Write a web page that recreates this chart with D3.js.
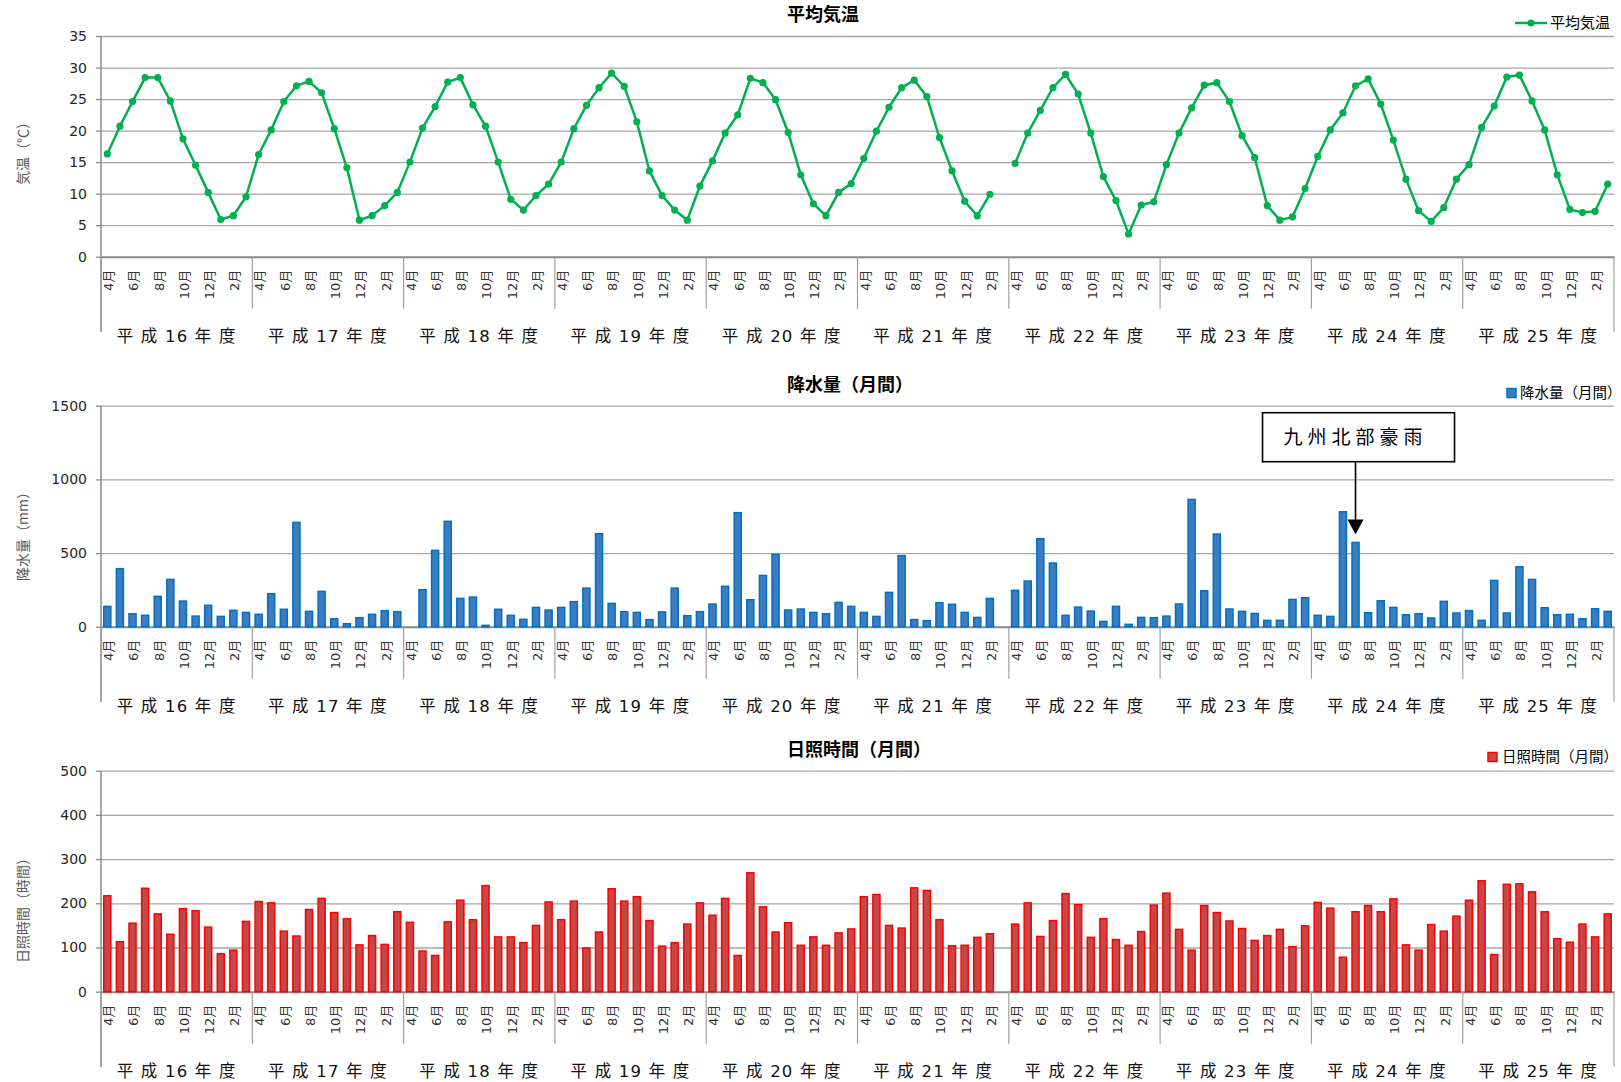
<!DOCTYPE html>
<html>
<head>
<meta charset="utf-8">
<script src="https://cdn.jsdelivr.net/npm/d3@7"></script>
<style>
    body { margin: 0; background: #fff; }
    text { font-family: "DejaVu Sans", "Noto Sans CJK JP", sans-serif; }
</style>
</head>
<body>
<svg id="chart"></svg>
<script>
var yearNames = ["平 成 16 年 度", "平 成 17 年 度", "平 成 18 年 度", "平 成 19 年 度", "平 成 20 年 度",
    "平 成 21 年 度", "平 成 22 年 度", "平 成 23 年 度", "平 成 24 年 度", "平 成 25 年 度"];
var monthNames = ["4月", "5月", "6月", "7月", "8月", "9月", "10月", "11月", "12月", "1月", "2月", "3月"];

// 平均気温 (℃), 4月〜3月 x 10年度
var temperature = [
    16.3, 20.7, 24.6, 28.4, 28.4, 24.7, 18.7, 14.5, 10.2, 5.9, 6.5, 9.5,
    16.2, 20.1, 24.6, 27.1, 27.8, 26.0, 20.3, 14.1, 5.8, 6.5, 8.1, 10.2,
    15.0, 20.4, 23.8, 27.7, 28.4, 24.1, 20.7, 15.0, 9.1, 7.4, 9.7, 11.5,
    15.0, 20.3, 24.0, 26.8, 29.1, 27.0, 21.4, 13.6, 9.7, 7.4, 5.8, 11.2,
    15.2, 19.6, 22.5, 28.3, 27.6, 24.9, 19.7, 13.0, 8.4, 6.5, 10.2, 11.6,
    15.6, 19.9, 23.7, 26.8, 28.0, 25.4, 18.9, 13.6, 8.8, 6.5, 9.9, null,
    14.8, 19.6, 23.2, 26.8, 28.9, 25.8, 19.6, 12.7, 8.9, 3.6, 8.2, 8.7,
    14.6, 19.6, 23.6, 27.2, 27.6, 24.6, 19.2, 15.7, 8.1, 5.8, 6.3, 10.8,
    15.9, 20.1, 22.8, 27.1, 28.2, 24.2, 18.5, 12.3, 7.3, 5.6, 7.8, 12.3,
    14.6, 20.5, 23.9, 28.5, 28.8, 24.7, 20.1, 13.0, 7.5, 7.0, 7.2, 11.5
];

// 降水量 (mm)
var rainfall = [
    138, 394, 88, 77, 206, 321, 174, 72, 145, 70, 111, 97,
    84, 224, 118, 708, 104, 240, 54, 20, 61, 84, 109, 102,
    null, 251, 518, 715, 192, 201, 9, 118, 77, 50, 131, 113,
    131, 170, 262, 631, 158, 102, 97, 48, 100, 262, 75, 102,
    154, 274, 774, 183, 348, 491, 113, 120, 97, 88, 165, 138,
    97, 70, 233, 482, 48, 41, 163, 152, 97, 63, 192, null,
    247, 310, 597, 432, 77, 133, 106, 36, 138, 16, 63, 61,
    72, 154, 864, 244, 629, 120, 104, 90, 43, 43, 185, 197,
    77, 70, 780, 572, 95, 176, 131, 81, 88, 59, 172, 93,
    109, 43, 314, 93, 407, 321, 129, 81, 84, 54, 122, 104
];

// 日照時間 (時間)
var sunshine = [
    217, 113, 155, 234, 176, 130, 188, 183, 146, 86, 94, 159,
    204, 201, 137, 126, 186, 211, 179, 165, 106, 127, 107, 181,
    157, 92, 82, 158, 207, 163, 240, 124, 124, 111, 150, 203,
    163, 205, 99, 135, 233, 205, 215, 161, 103, 111, 153, 201,
    173, 211, 82, 269, 192, 135, 156, 105, 124, 105, 133, 142,
    215, 220, 150, 144, 235, 229, 163, 104, 105, 123, 131, null,
    153, 201, 125, 161, 222, 197, 123, 165, 118, 105, 136, 196,
    223, 141, 94, 195, 179, 160, 143, 116, 127, 141, 102, 149,
    202, 189, 78, 181, 195, 181, 210, 106, 94, 152, 137, 171,
    207, 251, 84, 243, 244, 226, 181, 120, 112, 153, 124, 176
];

var tempTicks = [0, 5, 10, 15, 20, 25, 30, 35];
var rainTicks = [0, 500, 1000, 1500];
var sunTicks = [0, 100, 200, 300, 400, 500];

var stormIndex = 99;   // 平成24年7月
var stormLabel = "九州北部豪雨";

var totalWidth = 1621;
var totalHeight = 1082;
var left = 101, right = 1614;

var svg = d3.select("#chart")
    .attr("width", totalWidth)
    .attr("height", totalHeight);

var months = d3.range(yearNames.length * 12);
var x = d3.scaleBand().domain(months).range([left, right]).paddingInner(0.44).paddingOuter(0.22);
var xYear = d3.scaleBand().domain(yearNames).range([left, right]);

function monthName(i) { return monthNames[i % 12]; }

function drawFrame(y, ticks, title, yTitle, yTitleY) {
    var y0 = y(0);
    var g = svg.append("g");

    // horizontal grid
    g.append("g")
        .attr("transform", "translate(" + left + ",0)")
        .call(d3.axisLeft(y).tickValues(ticks.slice(1)).tickSize(-(right - left)).tickFormat(""))
        .call(function (s) {
            s.select(".domain").remove();
            s.selectAll("line").attr("stroke", "#a6a6a6").attr("stroke-width", 1.3);
        });

    // y axis with labels
    g.append("g")
        .attr("transform", "translate(" + left + ",0)")
        .call(d3.axisLeft(y).tickValues(ticks).tickSize(5).tickPadding(9).tickFormat(d3.format("d")))
        .call(function (s) {
            s.select(".domain").remove();
            s.selectAll("line").attr("stroke", "#898989").attr("stroke-width", 1.3);
            s.selectAll("text").attr("font-size", 14).attr("fill", "#262626")
                .style("font-family", "DejaVu Sans");
        });

    g.append("line")
        .attr("x1", left).attr("x2", left)
        .attr("y1", y(ticks[ticks.length - 1])).attr("y2", y0 + 75)
        .attr("stroke", "#898989").attr("stroke-width", 1.5);

    // month labels
    g.append("g")
        .attr("transform", "translate(0," + y0 + ")")
        .call(d3.axisBottom(x).tickValues(months.filter(function (d) { return d % 2 == 0; }))
            .tickSize(0).tickFormat(monthName))
        .call(function (s) {
            s.select(".domain").attr("stroke", "#898989").attr("stroke-width", 2);
            s.selectAll("text")
                .attr("transform", "rotate(-90)")
                .attr("text-anchor", "end")
                .attr("x", -13).attr("y", 0).attr("dy", "0.45em")
                .attr("font-size", 13).attr("fill", "#333");
        });

    // year separators
    var bounds = d3.range(yearNames.length + 1);
    g.selectAll(".sep")
        .data(bounds)
        .enter()
        .append("line")
        .attr("x1", function (d) { return left + d * xYear.bandwidth(); })
        .attr("x2", function (d) { return left + d * xYear.bandwidth(); })
        .attr("y1", y0)
        .attr("y2", function (d) { return (d == 0 || d == yearNames.length) ? y0 + 75 : y0 + 52; })
        .attr("stroke", "#a0a0a0").attr("stroke-width", 1.2);

    g.selectAll(".year")
        .data(yearNames)
        .enter()
        .append("text")
        .attr("x", function (d) { return xYear(d) + xYear.bandwidth() / 2; })
        .attr("y", y0 + 80)
        .attr("dy", "0.35em")
        .attr("text-anchor", "middle")
        .attr("font-size", 16.5)
        .attr("letter-spacing", 1.2)
        .attr("fill", "#111")
        .text(function (d) { return d; });

    g.append("text")
        .attr("x", 787).attr("y", y(ticks[ticks.length - 1]) - 21)
        .attr("dy", "0.35em")
        .attr("font-size", 18).attr("font-weight", "bold")
        .style("font-family", "Noto Sans CJK JP")
        .text(title);

    g.append("text")
        .attr("transform", "translate(23," + yTitleY + ") rotate(-90)")
        .attr("text-anchor", "middle")
        .attr("dy", "0.35em")
        .attr("font-size", 14).attr("fill", "#595959")
        .style("font-family", "Noto Sans CJK JP")
        .text(yTitle);
}

// ---- 平均気温 ----
var yTemp = d3.scaleLinear().domain([0, 35]).range([256.7, 36]);
drawFrame(yTemp, tempTicks, "平均気温", "気温（℃）", 150);

var line = d3.line()
    .defined(function (d) { return d != null; })
    .x(function (d, i) { return x(i) + x.bandwidth() / 2; })
    .y(function (d) { return yTemp(d); });

svg.append("path")
    .datum(temperature)
    .attr("d", line)
    .attr("fill", "none")
    .attr("stroke", "#00b050")
    .attr("stroke-width", 2.5);

svg.selectAll(".dot")
    .data(months.filter(function (i) { return temperature[i] != null; }))
    .enter()
    .append("circle")
    .attr("cx", function (i) { return x(i) + x.bandwidth() / 2; })
    .attr("cy", function (i) { return yTemp(temperature[i]); })
    .attr("r", 3.6)
    .attr("fill", "#00b050");

svg.append("line").attr("x1", 1515).attr("x2", 1547).attr("y1", 23).attr("y2", 23)
    .attr("stroke", "#00b050").attr("stroke-width", 2.5);
svg.append("circle").attr("cx", 1531).attr("cy", 23).attr("r", 3.6).attr("fill", "#00b050");
svg.append("text").attr("x", 1550).attr("y", 23).attr("dy", "0.35em")
    .attr("font-size", 15).style("font-family", "Noto Sans CJK JP").text("平均気温");

// ---- 降水量 ----
var yRain = d3.scaleLinear().domain([0, 1500]).range([626.7, 405.7]);
drawFrame(yRain, rainTicks, "降水量（月間）", "降水量（mm）", 533);

svg.selectAll(".rain")
    .data(months.filter(function (i) { return rainfall[i] != null; }))
    .enter()
    .append("rect")
    .attr("x", function (i) { return x(i); })
    .attr("y", function (i) { return yRain(rainfall[i]); })
    .attr("width", x.bandwidth())
    .attr("height", function (i) { return yRain(0) - yRain(rainfall[i]); })
    .attr("fill", "#3d7dbf")
    .attr("stroke", "#0070c0")
    .attr("stroke-width", 1.5);

svg.append("rect").attr("x", 1507).attr("y", 388.5).attr("width", 9).attr("height", 9)
    .attr("fill", "#3d7dbf").attr("stroke", "#0070c0").attr("stroke-width", 1.5);
svg.append("text").attr("x", 1520).attr("y", 393).attr("dy", "0.35em")
    .attr("font-size", 14.5).style("font-family", "Noto Sans CJK JP").text("降水量（月間）");

// annotation
var ax = x(stormIndex) + x.bandwidth() / 2;
var tipY = yRain(rainfall[stormIndex]) - 8;
var boxW = 192, boxH = 49, boxTop = 412.7;
svg.append("rect")
    .attr("x", ax - 93).attr("y", boxTop)
    .attr("width", boxW).attr("height", boxH)
    .attr("fill", "#fff").attr("stroke", "#000").attr("stroke-width", 1.6);
svg.append("text")
    .attr("x", ax - 93 + boxW / 2 - 3).attr("y", boxTop + boxH / 2)
    .attr("dy", "0.36em")
    .attr("text-anchor", "middle")
    .attr("font-size", 19)
    .attr("letter-spacing", 5)
    .style("font-family", "Noto Sans CJK JP")
    .text(stormLabel);
svg.append("line")
    .attr("x1", ax).attr("x2", ax)
    .attr("y1", boxTop + boxH).attr("y2", tipY - 14)
    .attr("stroke", "#000").attr("stroke-width", 1.6);
svg.append("path")
    .attr("d", "M" + (ax - 8) + "," + (tipY - 15) + "L" + (ax + 8) + "," + (tipY - 15) + "L" + ax + "," + tipY + "Z")
    .attr("fill", "#000");

// ---- 日照時間 ----
var ySun = d3.scaleLinear().domain([0, 500]).range([991.7, 770.7]);
drawFrame(ySun, sunTicks, "日照時間（月間）", "日照時間（時間）", 907);

svg.selectAll(".sun")
    .data(months.filter(function (i) { return sunshine[i] != null; }))
    .enter()
    .append("rect")
    .attr("x", function (i) { return x(i); })
    .attr("y", function (i) { return ySun(sunshine[i]); })
    .attr("width", x.bandwidth())
    .attr("height", function (i) { return ySun(0) - ySun(sunshine[i]); })
    .attr("fill", "#c44848")
    .attr("stroke", "#ff0000")
    .attr("stroke-width", 1.5);

svg.append("rect").attr("x", 1488).attr("y", 752.5).attr("width", 9).attr("height", 9)
    .attr("fill", "#c44848").attr("stroke", "#ff0000").attr("stroke-width", 1.5);
svg.append("text").attr("x", 1502).attr("y", 757).attr("dy", "0.35em")
    .attr("font-size", 14.5).style("font-family", "Noto Sans CJK JP").text("日照時間（月間）");
</script>
</body>
</html>
